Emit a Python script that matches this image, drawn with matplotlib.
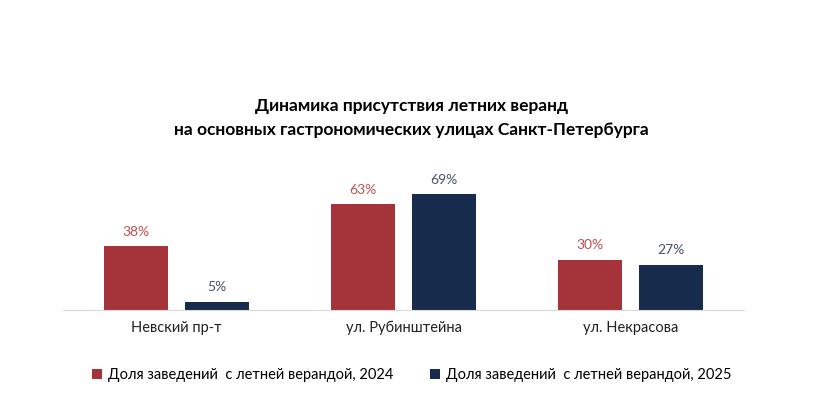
import numpy as np
import matplotlib.pyplot as plt

plt.rcParams['font.family'] = ['Lato', 'DejaVu Sans']

streets = ["Невский пр-т", "ул. Рубинштейна", "ул. Некрасова"]
share_2024 = [38, 63, 30]
share_2025 = [5, 69, 27]
label_2024 = "Доля заведений  с летней верандой, 2024"
label_2025 = "Доля заведений  с летней верандой, 2025"

red = "#A4343A"
navy = "#172B4D"

fig = plt.figure(figsize=(8.23, 3.99), dpi=100)
ax = fig.add_axes([63/823, 89/399, 681/823, 0.4])

x = np.arange(len(streets))
w = 0.28
b1 = ax.bar(x - 0.178, share_2024, w, color=red, label=label_2024)
b2 = ax.bar(x + 0.178, share_2025, w, color=navy, label=label_2025)

# подписи значений над столбиками
for rect, v in zip(b1, share_2024):
    ax.text(rect.get_x() + rect.get_width()/2, v + 5, f"{v}%", ha="center", va="bottom",
            fontsize=10, color="#C0504D")
for rect, v in zip(b2, share_2025):
    ax.text(rect.get_x() + rect.get_width()/2, v + 5, f"{v}%", ha="center", va="bottom",
            fontsize=10, color="#44546A")

ax.set_xlim(-0.5, 2.5)
ax.set_ylim(0, 95)
ax.set_xticks(x)
ax.set_xticklabels(streets, fontsize=10.5, color="#222222")
ax.tick_params(axis="x", length=0, pad=8)
ax.set_yticks([])
for s in ["top", "right", "left"]:
    ax.spines[s].set_visible(False)
ax.spines["bottom"].set_color("#D9D9D9")

fig.text(0.5, 1 - 118/399, "Динамика присутствия летних веранд\nна основных гастрономических улицах Санкт-Петербурга",
         ha="center", va="center", fontsize=12.5, fontweight="bold", linespacing=1.55)

fig.legend(loc="center", bbox_to_anchor=(0.5, 1 - 375/399), ncol=2, frameon=False,
           fontsize=10.5, handlelength=0.7, handleheight=0.7, handletextpad=0.4, columnspacing=2.5)

fig.savefig("out.png", dpi=100, facecolor="white")
